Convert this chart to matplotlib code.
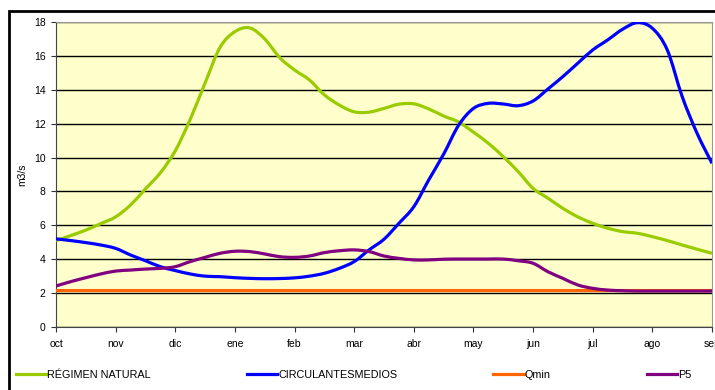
import numpy as np
import matplotlib
matplotlib.use("Agg")
import matplotlib.pyplot as plt
from matplotlib.lines import Line2D
from matplotlib.patches import PathPatch, Rectangle
from matplotlib.path import Path

plt.rcParams["font.family"] = ["Liberation Sans", "DejaVu Sans"]

# hydrological year, Oct -> Sep
months = ["oct", "nov", "dic", "ene", "feb", "mar", "abr",
          "may", "jun", "jul", "ago", "sep"]

# series sampled every quarter month (45 samples from oct to sep)
regimen_natural = [
    5.10, 5.40, 5.72, 6.10, 6.50, 7.20, 8.15, 9.10, 10.40, 12.25, 14.40, 16.50,
    17.43, 17.65, 17.00, 15.90, 15.17, 14.58, 13.70, 13.10, 12.70, 12.68, 12.90,
    13.15, 13.17, 12.87, 12.45, 12.10, 11.50, 10.84, 10.05, 9.17, 8.18, 7.60,
    7.00, 6.50, 6.12, 5.83, 5.63, 5.53, 5.33, 5.10, 4.84, 4.59, 4.35,
]
circulantes_medios = [
    5.20, 5.10, 4.98, 4.84, 4.64, 4.25, 3.91, 3.56, 3.33, 3.13, 3.00, 2.97,
    2.91, 2.87, 2.85, 2.86, 2.90, 3.00, 3.17, 3.46, 3.86, 4.55, 5.18, 6.12,
    7.10, 8.68, 10.20, 11.90, 12.90, 13.20, 13.16, 13.06, 13.34, 14.05, 14.78,
    15.57, 16.35, 16.94, 17.57, 17.96, 17.63, 16.35, 13.60, 11.43, 9.66,
]
qmin = [2.15] * 45
p5 = [
    2.42, 2.68, 2.91, 3.13, 3.30, 3.36, 3.42, 3.46, 3.56, 3.86, 4.11, 4.35,
    4.47, 4.45, 4.31, 4.15, 4.11, 4.19, 4.39, 4.50, 4.55, 4.45, 4.19, 4.05,
    3.96, 3.96, 4.00, 4.01, 4.01, 4.01, 4.01, 3.91, 3.76, 3.26, 2.87, 2.48,
    2.28, 2.18, 2.14, 2.12, 2.12, 2.12, 2.12, 2.12, 2.12,
]

series = [
    ("RÉGIMEN NATURAL", regimen_natural, "#99CC00"),
    ("CIRCULANTESMEDIOS", circulantes_medios, "#0000FF"),
    ("Qmin", qmin, "#FF6600"),
    ("P5", p5, "#800080"),
]

x = np.arange(len(regimen_natural)) / 4.0


def smooth_path(xs, ys):
    """Bezier path through the points (spreadsheet style 'smoothed line')."""
    pts = np.column_stack([xs, ys])
    padded = np.vstack([pts[0], pts, pts[-1]])
    verts = [pts[0]]
    codes = [Path.MOVETO]
    for i in range(len(pts) - 1):
        p0, p1, p2, p3 = padded[i], padded[i + 1], padded[i + 2], padded[i + 3]
        verts += [p1 + (p2 - p0) / 6.0, p2 - (p3 - p1) / 6.0, p2]
        codes += [Path.CURVE4] * 3
    return Path(verts, codes)


fig = plt.figure(figsize=(7.15, 3.9), dpi=100)
ax = fig.add_axes([56 / 715, 1 - 327 / 390, (712 - 56) / 715, (327 - 22) / 390])
ax.set_facecolor("#FFFFCC")

handles = []
for label, values, color in series:
    ax.add_patch(PathPatch(smooth_path(x, values), facecolor="none",
                           edgecolor=color, linewidth=2.3, zorder=3,
                           capstyle="butt"))
    handles.append(Line2D([], [], color=color, linewidth=2.3, label=label))

ax.set_xlim(0, len(months) - 1)
ax.set_ylim(0, 18)
ax.set_yticks(np.arange(0, 19, 2))
ax.set_xticks(np.arange(len(months)))
ax.set_xticklabels(months)
ax.yaxis.grid(True, color="black", linewidth=1.0)
ax.set_axisbelow(True)
ax.tick_params(axis="both", labelsize=7.5, length=3.5, width=0.8, color="#333333")
ax.tick_params(axis="x", pad=5)
ax.tick_params(axis="y", pad=4)

ax.spines["left"].set_color("#444444")
ax.spines["bottom"].set_color("#444444")
ax.spines["top"].set_color("#999999")
ax.spines["right"].set_color("#999999")

ax.set_ylabel("m3/s", fontsize=7.5, labelpad=5)

# outer chart frame
fig.patches.append(Rectangle((9 / 715, -0.05), 1.0, 1 - 11 / 390 + 0.05,
                             transform=fig.transFigure, fill=False,
                             edgecolor="black", linewidth=2.0, zorder=0))

fig.legend(handles=handles, loc="center left", ncol=4,
           bbox_to_anchor=(16 / 715, 1 - 375 / 390), frameon=False,
           fontsize=7.8, handlelength=2.8, handletextpad=0.1,
           columnspacing=8.85, borderaxespad=0, borderpad=0)

fig.savefig("out.png", dpi=100)
